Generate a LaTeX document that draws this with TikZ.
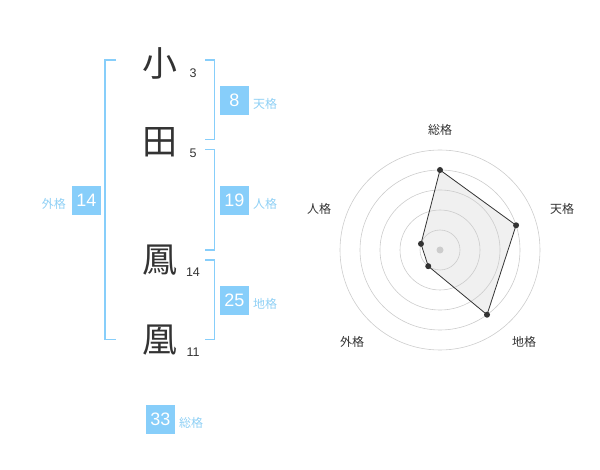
\documentclass[tikz,border=0pt]{standalone}
\usepackage{fontspec}
\setmainfont{Liberation Sans}
\newfontfamily\cjk{Noto Sans CJK JP}
\definecolor{skyb}{HTML}{87CEFA}
\definecolor{lbl}{HTML}{8FD0F5}
\definecolor{dk}{HTML}{333333}
\definecolor{ring}{HTML}{CCCCCC}
\begin{document}
\begin{tikzpicture}[x=1pt,y=-1pt,
  kanji/.style={font=\cjk\fontsize{35}{35}\selectfont, text=dk, inner sep=0},
  strokes/.style={font=\fontsize{12.5}{12.5}\selectfont, text=dk, inner sep=0},
  numbox/.style={fill=skyb, text=white, minimum width=29, minimum height=29, inner sep=0, font=\fontsize{18}{18}\selectfont},
  boxlbl/.style={font=\cjk\fontsize{12}{12}\selectfont, text=lbl, inner sep=0},
  brk/.style={draw=skyb, line width=1.6},
  radlbl/.style={font=\cjk\fontsize{12}{12}\selectfont, text=dk, inner sep=0},
  ringline/.style={draw=ring, line width=0.6},
  dot/.style={circle, fill=dk, inner sep=0, minimum size=6}]
\useasboundingbox (0,0) rectangle (600,470);
% kanji
\node[kanji] (k1) at (160,63) {小};
\node[kanji] (k2) at (160,142) {田};
\node[kanji] (k3) at (160,260) {鳳};
\node[kanji] (k4) at (160,340) {凰};
\node[strokes] (s1) at (193,73) {3};
\node[strokes] (s2) at (193,153) {5};
\node[strokes] (s3) at (193,272) {14};
\node[strokes] (s4) at (193,352) {11};
% brackets
\draw[brk] (116,60) -- (105,60) -- (105,339.5) -- (116,339.5);
\draw[brk] (205,60) -- (214.5,60) -- (214.5,139.5) -- (205,139.5);
\draw[brk] (205,149.5) -- (214.5,149.5) -- (214.5,250) -- (205,250);
\draw[brk] (205,260) -- (214.5,260) -- (214.5,339.5) -- (205,339.5);
% boxes
\node[numbox] (ten) at (234.5,100.5) {8};
\node[boxlbl, anchor=west] (tenl) at (253,104) {天格};
\node[numbox] (jin) at (234.5,200.5) {19};
\node[boxlbl, anchor=west] (jinl) at (253,204) {人格};
\node[numbox] (chi) at (234.5,300.5) {25};
\node[boxlbl, anchor=west] (chil) at (253,304) {地格};
\node[numbox] (gai) at (86.5,200.5) {14};
\node[boxlbl, anchor=east] (gail) at (66,204) {外格};
\node[numbox] (sou) at (160.5,419.5) {33};
\node[boxlbl, anchor=west] (soul) at (179,422.5) {総格};
% radar
\begin{scope}[shift={(440,250)}]
\coordinate (p1) at (0,-80);
\coordinate (p2) at ({80*cos(18)},{-80*sin(18)});
\coordinate (p3) at ({80*cos(54)},{80*sin(54)});
\coordinate (p4) at ({-20*cos(54)},{20*sin(54)});
\coordinate (p5) at ({-20*cos(18)},{-20*sin(18)});
\fill[black!6] (p1) -- (p2) -- (p3) -- (p4) -- (p5) -- cycle;
\foreach \r in {20,40,60,80,100} \draw[ringline] (0,0) circle[radius=\r];
\draw[dk, line width=0.8] (p1) -- (p2) -- (p3) -- (p4) -- (p5) -- cycle;
\fill[ring] (0,0) circle[radius=3.5];
\foreach \p in {p1,p2,p3,p4,p5} \node[dot] at (\p) {};
\end{scope}
\node[radlbl] (r1) at (440,130) {総格};
\node[radlbl] (r2) at (562,208.5) {天格};
\node[radlbl] (r3) at (524,342) {地格};
\node[radlbl] (r4) at (352,342) {外格};
\node[radlbl] (r5) at (319,208.5) {人格};
\end{tikzpicture}
\end{document}
